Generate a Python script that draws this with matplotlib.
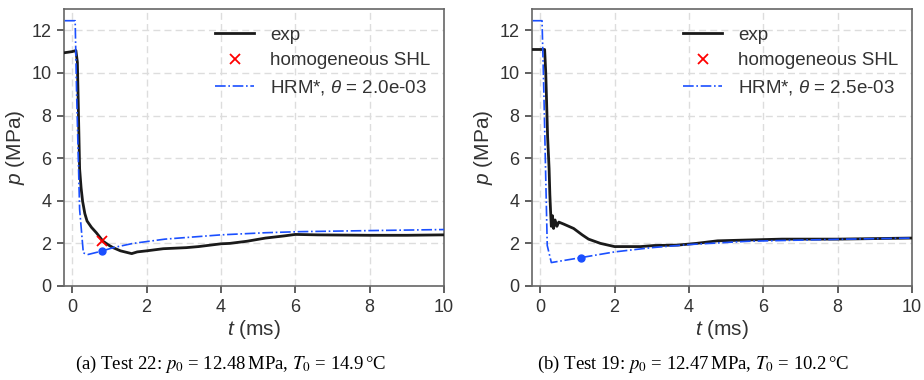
import matplotlib
matplotlib.use("Agg")
import matplotlib.pyplot as plt
import numpy as np

# ---------------- data ----------------
# Test 22 (left)
t_exp_a = [-0.2, 0.0, 0.1, 0.14, 0.17, 0.2, 0.24, 0.28, 0.34, 0.4, 0.52, 0.65, 0.83, 1.0, 1.1, 1.3, 1.6, 1.75, 2.0, 2.45,
           3.07, 3.4, 4.0, 4.24, 4.7, 5.2, 5.7, 6.0, 6.6, 8.0, 9.0, 10.0]
p_exp_a = [10.95, 11.0, 11.05, 10.5, 8.0, 5.5, 4.6, 3.98, 3.4, 3.05, 2.75, 2.5, 2.1, 1.9, 1.8, 1.65, 1.52, 1.6, 1.65, 1.75,
           1.8, 1.85, 1.98, 2.0, 2.1, 2.25, 2.35, 2.42, 2.4, 2.38, 2.38, 2.4]
t_hrm_a = [-0.2, 0.08, 0.12, 0.2, 0.3, 0.43, 0.8, 1.1, 1.64, 2.5, 4.0, 5.2, 6.1, 8.0, 10.0]
p_hrm_a = [12.45, 12.45, 9.0, 3.6, 1.55, 1.48, 1.64, 1.8, 2.0, 2.2, 2.4, 2.5, 2.55, 2.6, 2.65]
shl_a = (0.8, 2.12)
dot_a = (0.8, 1.64)
theta_a = "2.0e-03"

# Test 19 (right)
t_exp_b = [-0.2, 0.0, 0.12, 0.15, 0.2, 0.24, 0.26, 0.28, 0.3, 0.33, 0.36, 0.4, 0.45, 0.5, 0.64, 0.9, 1.13, 1.3, 1.62,
           2.0, 2.7, 3.06, 3.7, 4.2, 4.77, 5.4, 6.5, 8.0, 10.0]
p_exp_b = [11.1, 11.1, 11.1, 10.0, 7.0, 5.5, 4.3, 3.5, 2.8, 3.3, 2.7, 3.1, 2.8, 3.0, 2.9, 2.7, 2.4, 2.2, 2.0,
           1.85, 1.85, 1.9, 1.92, 2.0, 2.12, 2.15, 2.2, 2.2, 2.25]
t_hrm_b = [-0.2, 0.05, 0.1, 0.19, 0.3, 1.09, 2.0, 3.0, 4.05, 5.6, 6.9, 8.3, 10.0]
p_hrm_b = [12.45, 12.45, 9.0, 1.9, 1.1, 1.33, 1.6, 1.8, 1.95, 2.1, 2.15, 2.2, 2.25]
dot_b = (1.09, 1.33)
theta_b = "2.5e-03"

captions = [r"(a) Test 22: $p_0$ = 12.48$\,$MPa, $T_0$ = 14.9$\,$°C",
            r"(b) Test 19: $p_0$ = 12.47$\,$MPa, $T_0$ = 10.2$\,$°C"]

x_ticks = [0, 2, 4, 6, 8, 10]
y_ticks = [0, 2, 4, 6, 8, 10, 12]

# ---------------- style ----------------
plt.rcParams['font.family'] = ['Liberation Sans', 'DejaVu Sans']
plt.rcParams['mathtext.fontset'] = 'custom'
plt.rcParams['mathtext.rm'] = 'Liberation Sans'
plt.rcParams['mathtext.it'] = 'Liberation Sans:italic'
TXT = '#333333'
SPINE = '#666666'

fig = plt.figure(figsize=(9.24, 3.8), dpi=100)
ax1 = fig.add_axes([64/924, 1-286/380, 380/924, 277/380])
ax2 = fig.add_axes([532/924, 1-286/380, 380/924, 277/380])

panels = [
    (ax1, t_exp_a, p_exp_a, t_hrm_a, p_hrm_a, shl_a, dot_a, theta_a),
    (ax2, t_exp_b, p_exp_b, t_hrm_b, p_hrm_b, None, dot_b, theta_b),
]
for ax, te, pe, th, ph, shl, dot, theta in panels:
    ax.plot(te, pe, color='#1a1a1a', lw=2.0, label='exp', zorder=3)
    if shl is not None:
        ax.plot([shl[0]], [shl[1]], 'x', color='red', ms=7, mew=1.3, zorder=5,
                label='homogeneous SHL')
    else:
        ax.plot([], [], 'x', color='red', ms=7, mew=1.3, label='homogeneous SHL')
    ax.plot(th, ph, color='#1a4fff', lw=1.2, ls='-.', label=r'HRM*, $\theta$ = ' + theta, zorder=4)
    ax.plot([dot[0]], [dot[1]], 'o', color='#1a4fff', ms=5, zorder=6)
    ax.set_xlim(-0.22, 10)
    ax.set_ylim(0, 13)
    ax.set_xticks(x_ticks)
    ax.set_yticks(y_ticks)
    ax.grid(True, ls=(0, (5, 3)), color='#dddddd', lw=1.0)
    ax.set_axisbelow(True)
    for s in ax.spines.values():
        s.set_color(SPINE)
        s.set_linewidth(1.2)
    ax.tick_params(direction='out', length=5, width=1.2, color='#444444',
                   labelsize=13, labelcolor=TXT, pad=4)
    ax.set_xlabel(r'$t$ (ms)', fontsize=15, color=TXT, labelpad=2)
    ax.set_ylabel(r'$p$ (MPa)', fontsize=15, color=TXT, labelpad=3)
    leg = ax.legend(loc='upper right', bbox_to_anchor=(1 - 6/380, 1 - 10/277),
                    fontsize=13.5, frameon=False, handlelength=2.1,
                    handletextpad=0.85, labelspacing=0.45, borderaxespad=0.0)
    for txt in leg.get_texts():
        txt.set_color(TXT)

fig.text(231/924, 1-364/380, captions[0], ha='center', va='center', fontsize=13.5,
         family='Liberation Serif', math_fontfamily='stix', color='black')
fig.text(693/924, 1-364/380, captions[1], ha='center', va='center', fontsize=13.5,
         family='Liberation Serif', math_fontfamily='stix', color='black')

fig.savefig('out.png', dpi=100)
